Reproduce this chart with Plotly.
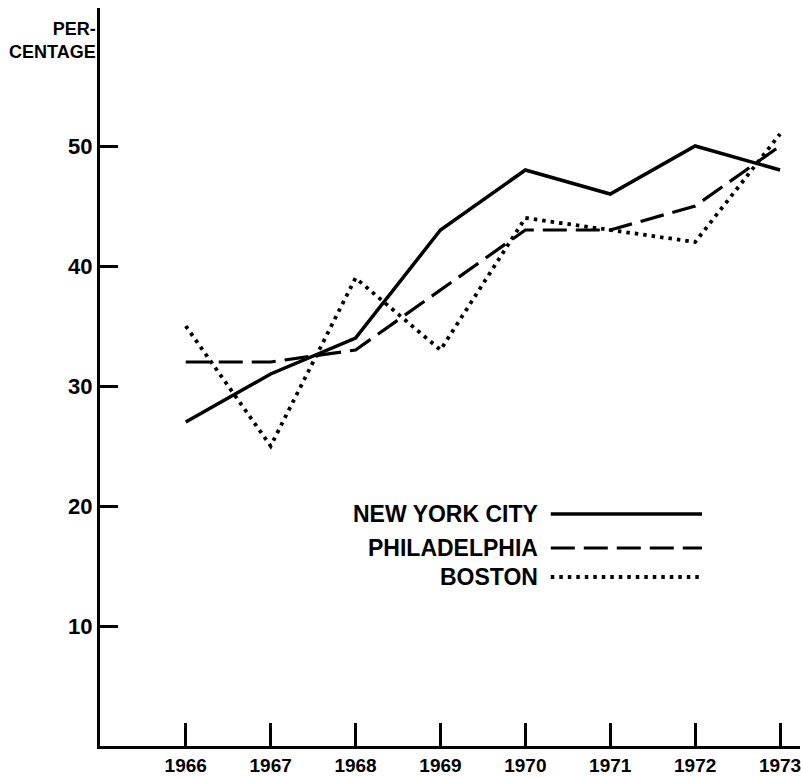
import plotly.graph_objects as go

years = [1966, 1967, 1968, 1969, 1970, 1971, 1972, 1973]
new_york = [27, 31, 34, 43, 48, 46, 50, 48]
philadelphia = [32, 32, 33, 38, 43, 43, 45, 50]
boston = [35, 25, 39, 33, 44, 43, 42, 51]
y_ticks = [10, 20, 30, 40, 50]
series_names = ["NEW YORK CITY", "PHILADELPHIA", "BOSTON"]

FONT = "Liberation Sans, Arial, sans-serif"
styles = [dict(dash="solid", width=3.5), dict(dash="24px,9px", width=3.2), dict(dash="3.5px,5px", width=3.8)]

fig = go.Figure()
for name, vals, st in zip(series_names, [new_york, philadelphia, boston], styles):
    fig.add_trace(go.Scatter(x=years, y=vals, mode="lines", name=name,
                             line=dict(color="black", **st), showlegend=False))

# legend drawn as text + line samples (text on the left, sample on the right)
leg_y = [0.3144, 0.2683, 0.229]
for name, st, yy in zip(series_names, styles, leg_y):
    fig.add_annotation(x=0.629, y=yy, xref="paper", yref="paper", text=f"<b>{name}</b>",
                       showarrow=False, xanchor="right", yanchor="middle",
                       font=dict(family=FONT, size=23, color="black"))
    fig.add_shape(type="line", xref="paper", yref="paper", x0=0.644, x1=0.860, y0=yy, y1=yy,
                  line=dict(color="black", **st))

fig.add_annotation(x=-0.003, y=0.988, xref="paper", yref="paper", text="<b>PER-<br>CENTAGE</b>",
                   showarrow=False, xanchor="right", yanchor="top", align="right",
                   font=dict(family=FONT, size=18, color="black"))

fig.update_xaxes(range=[1964.99, 1973.235], tickvals=years, ticktext=[f"<b>{y}</b>" for y in years],
                 ticks="inside", ticklen=23, tickwidth=2.5, tickcolor="black",
                 showline=True, linewidth=3, linecolor="black", showgrid=False, zeroline=False,
                 ticklabeloverflow="allow",
                 tickfont=dict(family=FONT, size=19, color="black"))
fig.update_yaxes(range=[0, 61.5], tickvals=y_ticks, ticktext=[f"<b>{v}</b>" for v in y_ticks],
                 ticks="inside", ticklen=18, tickwidth=2.5, tickcolor="black",
                 showline=True, linewidth=3, linecolor="black", showgrid=False, zeroline=False,
                 tickfont=dict(family=FONT, size=22, color="black"))

fig.update_layout(width=801, height=777, margin=dict(l=100, r=1, t=8, b=31),
                  paper_bgcolor="white", plot_bgcolor="white", showlegend=False)
# remove the browser's default body margin so the figure fills the window exactly
fig.write_html("out.html", config={"displayModeBar": False},
               post_script="document.body.style.margin='0';document.body.style.overflow='hidden';")
